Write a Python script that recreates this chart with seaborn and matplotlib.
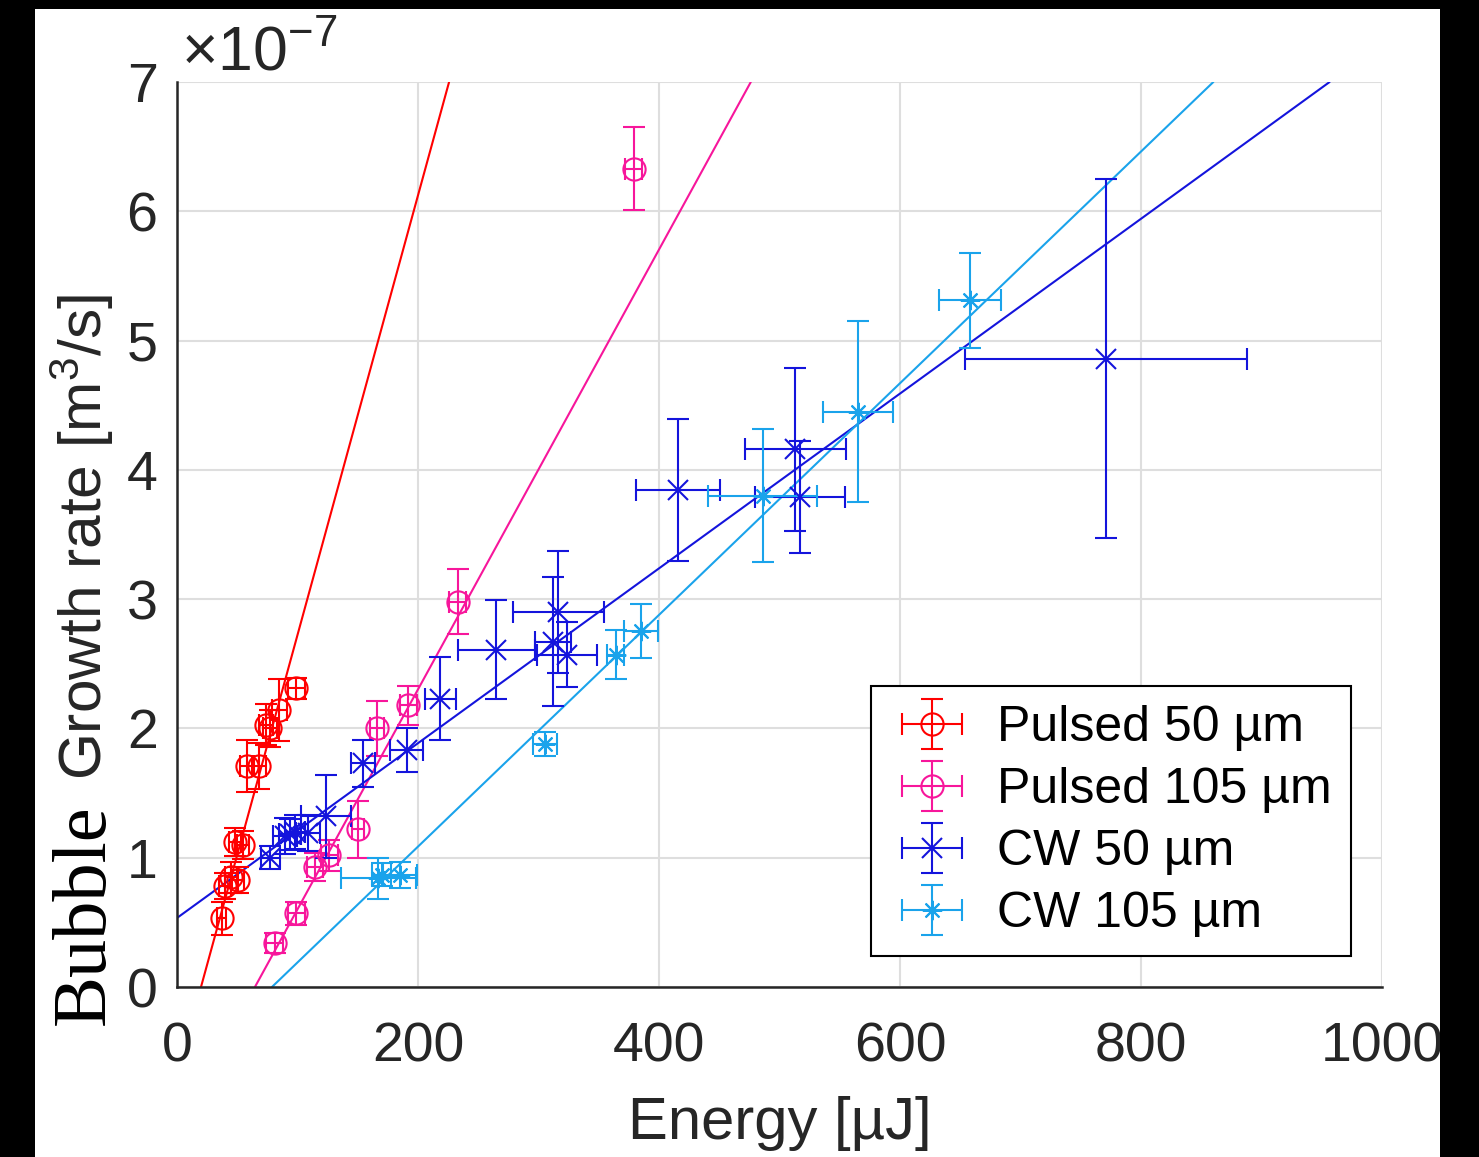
import matplotlib
matplotlib.use("Agg")
import matplotlib.pyplot as plt
import seaborn as sns
from matplotlib.patches import Rectangle
from matplotlib.container import ErrorbarContainer
from matplotlib.legend_handler import HandlerErrorbar

# growth rate values are in units of 1e-7 m^3/s, energy in uJ

# Pulsed 50 um
p50_energy = [37, 40, 45, 51, 48, 55, 58, 68, 74, 77, 85, 99]
p50_rate = [0.53, 0.78, 0.85, 0.83, 1.12, 1.10, 1.71, 1.71, 2.03, 2.00, 2.14, 2.31]
p50_xerr = [4, 5, 5, 5, 5, 5, 6, 6, 6, 6, 6, 7]
p50_yerr = [0.13, 0.10, 0.12, 0.10, 0.11, 0.11, 0.20, 0.18, 0.16, 0.14, 0.24, 0.08]

# Pulsed 105 um
p105_energy = [81, 99, 114.5, 126.5, 150, 166, 192, 233, 379]
p105_rate = [0.34, 0.57, 0.93, 1.02, 1.22, 2.00, 2.18, 2.98, 6.33]
p105_xerr = [7, 7, 7, 7, 5, 6, 7, 7, 7]
p105_yerr = [0.08, 0.09, 0.11, 0.12, 0.22, 0.21, 0.15, 0.25, 0.32]

# CW 50 um
cw50_energy = [77.5, 89.5, 94, 98, 109, 123.5, 154.5, 190.5, 218.5, 265, 312, 316.5, 323.5, 416, 513, 517, 771]
cw50_rate = [1.00, 1.17, 1.18, 1.20, 1.19, 1.32, 1.73, 1.83, 2.23, 2.61, 2.67, 2.90, 2.57, 3.845, 4.16, 3.79, 4.86]
cw50_xerr = [8, 10, 9, 8, 10, 21, 10, 14, 13, 32, 15, 38, 25, 35, 42, 37, 117]
cw50_yerr = [0.09, 0.14, 0.12, 0.13, 0.14, 0.32, 0.18, 0.17, 0.32, 0.38, 0.50, 0.47, 0.25, 0.55, 0.63, 0.43, 1.39]

# CW 105 um
cw105_energy = [167, 170, 185, 305.5, 364, 385, 486, 565.5, 658]
cw105_rate = [0.84, 0.87, 0.865, 1.88, 2.57, 2.755, 3.80, 4.45, 5.31]
cw105_xerr = [31, 8, 14, 10, 7, 14, 45, 29, 26]
cw105_yerr = [0.16, 0.09, 0.10, 0.09, 0.19, 0.21, 0.515, 0.70, 0.365]

# linear fits (slope per uJ, intercept)
fit_slopes = [0.0340, 0.01701, 0.00676, 0.00896]
fit_intercepts = [-0.677, -1.100, 0.534, -0.706]

labels = ["Pulsed 50 µm", "Pulsed 105 µm", "CW 50 µm", "CW 105 µm"]
colors = ["#FF0000", "#F7169B", "#1414DC", "#1AA3EB"]
markers = ["o", "o", "x", (8, 2, 0)]
x_ticks = [0, 200, 400, 600, 800, 1000]
y_ticks = [0, 1, 2, 3, 4, 5, 6, 7]

sns.set_theme(style="whitegrid")
plt.rcParams["font.family"] = ["Liberation Sans", "DejaVu Sans"]
plt.rcParams["mathtext.fontset"] = "custom"
plt.rcParams["mathtext.rm"] = "Liberation Sans"
plt.rcParams["mathtext.it"] = "Liberation Sans:italic"

W, H = 1479, 1157
fig = plt.figure(figsize=(W / 100, H / 100), dpi=100, facecolor="white")
ax = fig.add_axes([177 / W, 1 - 987 / H, (1382 - 177) / W, (987 - 82) / H])
ax.set_facecolor("white")

data = [
    (p50_energy, p50_rate, p50_xerr, p50_yerr),
    (p105_energy, p105_rate, p105_xerr, p105_yerr),
    (cw50_energy, cw50_rate, cw50_xerr, cw50_yerr),
    (cw105_energy, cw105_rate, cw105_xerr, cw105_yerr),
]

for (xs, ys, xe, ye), lab, col, mk in zip(data, labels, colors, markers):
    ms = 16 if mk == "o" else 14
    ax.errorbar(xs, ys, xerr=xe, yerr=ye, fmt="", marker=mk, color=col,
                mfc="none", mec=col, mew=1.5, ms=ms, elinewidth=1.5,
                capsize=8, capthick=1.5, linestyle="none", label=lab, zorder=3)

for m, b, col in zip(fit_slopes, fit_intercepts, colors):
    ax.axline((0, b), slope=m, color=col, lw=1.5, zorder=2)

ax.set_xlim(0, 1000)
ax.set_ylim(0, 7)
ax.set_xticks(x_ticks)
ax.set_yticks(y_ticks)
ax.grid(True, color="#DEDEDE", lw=1.5)
sns.despine(ax=ax)
for side in ["left", "bottom"]:
    ax.spines[side].set_color("#262626")
    ax.spines[side].set_linewidth(1.8)
ax.tick_params(direction="in", length=9, width=1.5, color="#262626",
               labelsize=40, labelcolor="#262626")
ax.tick_params(axis="x", pad=25)
ax.tick_params(axis="y", pad=14)

ax.set_xlabel("Energy [µJ]", fontsize=43, color="#262626", labelpad=16)

# y label mixes a serif and a sans-serif font
fig.text(104 / W, 1 - 1025 / H, "Bubble", rotation=90, rotation_mode="anchor",
         ha="left", va="baseline", fontsize=55, family=["Liberation Serif"], color="black")
fig.text(102 / W, 1 - 780 / H, "Growth rate [m$^3$/s]", rotation=90, rotation_mode="anchor",
         ha="left", va="baseline", fontsize=43.5, color="#262626")
fig.text(181 / W, 1 - 70 / H, r"$\times$10$^{-7}$", fontsize=45, color="#262626",
         ha="left", va="baseline")

leg = ax.legend(loc="lower right", bbox_to_anchor=(0.974, 0.034), fontsize=36,
                frameon=True, fancybox=False, framealpha=1, edgecolor="black",
                handlelength=1.7, handletextpad=0.45, labelspacing=0.32, borderpad=0.38,
                borderaxespad=0,
                handler_map={ErrorbarContainer: HandlerErrorbar(xerr_size=0.6, yerr_size=0.5)})
leg.get_frame().set_linewidth(1.5)
for t in leg.get_texts():
    t.set_color("black")

# black border strips of the screenshot
for (x0, y0, w, h) in [(0, 0, 35, H), (1440, 0, W - 1440, H), (0, H - 9, W, 9)]:
    fig.add_artist(Rectangle((x0 / W, y0 / H), w / W, h / H, transform=fig.transFigure,
                             facecolor="black", edgecolor="none", zorder=10))

fig.savefig("out.png", dpi=100, facecolor="white")
